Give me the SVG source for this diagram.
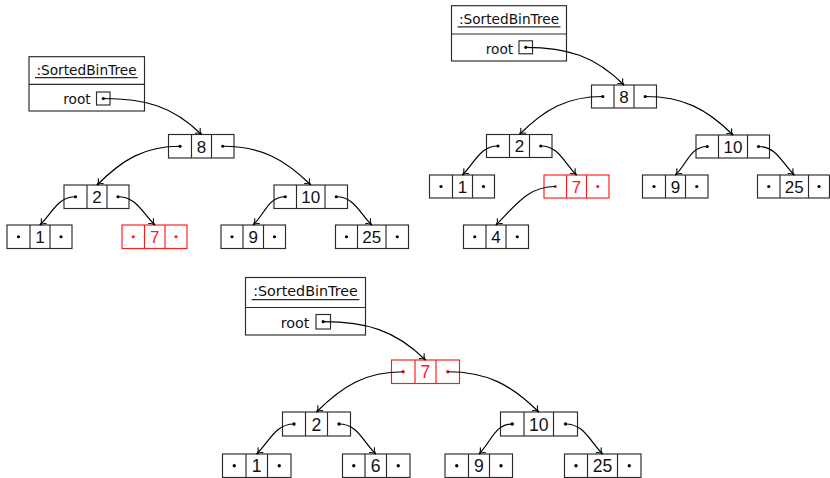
<svg xmlns="http://www.w3.org/2000/svg" width="830" height="478" viewBox="0 0 830 478">
<style>
  .cell { fill: none; stroke: #2a2a2a; stroke-width: 1.15; }
  .red .cell { stroke: #ff1a1a; }
  .num { font-family: "Liberation Sans", Arial, sans-serif; font-size: 17px; text-anchor: middle; fill: #111; }
  .big .num { font-size: 17.6px; }
  .red .num { fill: #ff1a1a; }
  .dot { fill: #000; }
  .red .dot { fill: #ff1a1a; }
  .obj { fill: none; stroke: #2a2a2a; stroke-width: 1.15; }
  .lbl { font-family: "DejaVu Sans", "Liberation Sans", sans-serif; font-size: 13.7px; fill: #111; }
  .conn path { fill: none; stroke: #000; stroke-width: 1.2; marker-end: url(#arr); }
</style>
<defs>
  <marker id="arr" viewBox="-7 -5 8 10" refX="0" refY="0" markerWidth="8" markerHeight="10" markerUnits="userSpaceOnUse" orient="auto">
    <path d="M-5.6,-3.8 C-4.2,-1.4 -1.8,-0.35 0,0 C-1.8,0.35 -4.2,1.4 -5.6,3.8" fill="none" stroke="#000" stroke-width="1.1"/>
  </marker>
</defs>

<!-- ========== Diagram 1 ========== -->
<g id="tree1-obj">
  <rect class="obj" x="29" y="56.7" width="115.5" height="54.3"/>
  <line class="obj" x1="29" y1="84.3" x2="144.5" y2="84.3"/>
  <text class="lbl" x="86.5" y="75" text-anchor="middle">:SortedBinTree</text>
  <line class="obj" x1="35" y1="77.6" x2="137.7" y2="77.6"/>
  <text class="lbl" x="90.7" y="104.3" text-anchor="end">root</text>
  <rect class="obj" x="96.5" y="92" width="13.5" height="13"/>
  <circle class="dot" cx="103.3" cy="98.5" r="1.6"/>
</g>
<g id="t1-n8"><rect class="cell" x="168.5" y="134.5" width="65.5" height="23.5"/><line class="cell" x1="191.5" y1="134.5" x2="191.5" y2="158"/><line class="cell" x1="211.5" y1="134.5" x2="211.5" y2="158"/><text class="num" x="201.5" y="152.6">8</text><circle class="dot" cx="180" cy="146.25" r="1.6"/><circle class="dot" cx="222.75" cy="146.25" r="1.6"/></g>
<g id="t1-n2"><rect class="cell" x="64" y="185" width="65" height="23.5"/><line class="cell" x1="87" y1="185" x2="87" y2="208.5"/><line class="cell" x1="107" y1="185" x2="107" y2="208.5"/><text class="num" x="97" y="203.1">2</text><circle class="dot" cx="75.5" cy="196.75" r="1.6"/><circle class="dot" cx="118" cy="196.75" r="1.6"/></g>
<g id="t1-n10"><rect class="cell" x="274" y="185" width="73.5" height="23.5"/><line class="cell" x1="296.5" y1="185" x2="296.5" y2="208.5"/><line class="cell" x1="325" y1="185" x2="325" y2="208.5"/><text class="num" x="310.75" y="203.1">10</text><circle class="dot" cx="285.25" cy="196.75" r="1.6"/><circle class="dot" cx="336.25" cy="196.75" r="1.6"/></g>
<g id="t1-n1"><rect class="cell" x="7" y="225" width="65" height="23.5"/><line class="cell" x1="30" y1="225" x2="30" y2="248.5"/><line class="cell" x1="50" y1="225" x2="50" y2="248.5"/><text class="num" x="40" y="243.1">1</text><circle class="dot" cx="18.5" cy="236.75" r="1.6"/><circle class="dot" cx="61" cy="236.75" r="1.6"/></g>
<g id="t1-n7" class="red"><rect class="cell" x="122" y="225" width="65" height="23.5"/><line class="cell" x1="144.5" y1="225" x2="144.5" y2="248.5"/><line class="cell" x1="165" y1="225" x2="165" y2="248.5"/><text class="num" x="154.75" y="243.1">7</text><circle class="dot" cx="133.25" cy="236.75" r="1.6"/><circle class="dot" cx="176" cy="236.75" r="1.6"/></g>
<g id="t1-n9"><rect class="cell" x="221" y="225" width="64.5" height="23.5"/><line class="cell" x1="243" y1="225" x2="243" y2="248.5"/><line class="cell" x1="263.5" y1="225" x2="263.5" y2="248.5"/><text class="num" x="253.25" y="243.1">9</text><circle class="dot" cx="232" cy="236.75" r="1.6"/><circle class="dot" cx="274.5" cy="236.75" r="1.6"/></g>
<g id="t1-n25"><rect class="cell" x="335.5" y="225" width="73" height="23.5"/><line class="cell" x1="357.5" y1="225" x2="357.5" y2="248.5"/><line class="cell" x1="386" y1="225" x2="386" y2="248.5"/><text class="num" x="371.75" y="243.1">25</text><circle class="dot" cx="346.5" cy="236.75" r="1.6"/><circle class="dot" cx="397.25" cy="236.75" r="1.6"/></g>

<!-- ========== Diagram 2 ========== -->
<g id="tree2-obj">
  <rect class="obj" x="451.5" y="5.7" width="115" height="55.3"/>
  <line class="obj" x1="451.5" y1="34" x2="566.5" y2="34"/>
  <text class="lbl" x="509" y="24.2" text-anchor="middle">:SortedBinTree</text>
  <line class="obj" x1="457.5" y1="26.8" x2="560.5" y2="26.8"/>
  <text class="lbl" x="513.2" y="53.8" text-anchor="end">root</text>
  <rect class="obj" x="519" y="40.8" width="13.5" height="13"/>
  <circle class="dot" cx="525.8" cy="47.3" r="1.6"/>
</g>
<g id="t2-n8"><rect class="cell" x="591.5" y="85" width="65" height="23"/><line class="cell" x1="614" y1="85" x2="614" y2="108"/><line class="cell" x1="634" y1="85" x2="634" y2="108"/><text class="num" x="624" y="102.8">8</text><circle class="dot" cx="602.75" cy="96.5" r="1.6"/><circle class="dot" cx="645.25" cy="96.5" r="1.6"/></g>
<g id="t2-n2"><rect class="cell" x="486.5" y="134.5" width="65.5" height="23"/><line class="cell" x1="509.5" y1="134.5" x2="509.5" y2="157.5"/><line class="cell" x1="529.5" y1="134.5" x2="529.5" y2="157.5"/><text class="num" x="519.5" y="152.3">2</text><circle class="dot" cx="498" cy="146" r="1.6"/><circle class="dot" cx="540.75" cy="146" r="1.6"/></g>
<g id="t2-n10"><rect class="cell" x="696" y="135" width="73.5" height="23"/><line class="cell" x1="718.5" y1="135" x2="718.5" y2="158"/><line class="cell" x1="747.5" y1="135" x2="747.5" y2="158"/><text class="num" x="733" y="152.8">10</text><circle class="dot" cx="707.25" cy="146.5" r="1.6"/><circle class="dot" cx="758.5" cy="146.5" r="1.6"/></g>
<g id="t2-n1"><rect class="cell" x="429.5" y="175" width="65" height="23"/><line class="cell" x1="452.5" y1="175" x2="452.5" y2="198"/><line class="cell" x1="472.5" y1="175" x2="472.5" y2="198"/><text class="num" x="462.5" y="192.8">1</text><circle class="dot" cx="441" cy="186.5" r="1.6"/><circle class="dot" cx="483.5" cy="186.5" r="1.6"/></g>
<g id="t2-n7" class="red"><rect class="cell" x="544" y="175" width="65" height="23"/><line class="cell" x1="566.5" y1="175" x2="566.5" y2="198"/><line class="cell" x1="586.5" y1="175" x2="586.5" y2="198"/><text class="num" x="576.5" y="192.8">7</text><circle class="dot" cx="555.25" cy="186.5" r="1.6"/><circle class="dot" cx="597.75" cy="186.5" r="1.6"/></g>
<g id="t2-n9"><rect class="cell" x="642.5" y="175" width="65.5" height="23"/><line class="cell" x1="665.5" y1="175" x2="665.5" y2="198"/><line class="cell" x1="685.5" y1="175" x2="685.5" y2="198"/><text class="num" x="675.5" y="192.8">9</text><circle class="dot" cx="654" cy="186.5" r="1.6"/><circle class="dot" cx="696.75" cy="186.5" r="1.6"/></g>
<g id="t2-n25"><rect class="cell" x="757.5" y="175" width="72" height="23"/><line class="cell" x1="780" y1="175" x2="780" y2="198"/><line class="cell" x1="808.5" y1="175" x2="808.5" y2="198"/><text class="num" x="794.25" y="192.8">25</text><circle class="dot" cx="768.75" cy="186.5" r="1.6"/><circle class="dot" cx="819" cy="186.5" r="1.6"/></g>
<g id="t2-n4"><rect class="cell" x="463.5" y="225" width="65" height="23.5"/><line class="cell" x1="486" y1="225" x2="486" y2="248.5"/><line class="cell" x1="506" y1="225" x2="506" y2="248.5"/><text class="num" x="496" y="243.1">4</text><circle class="dot" cx="474.75" cy="236.75" r="1.6"/><circle class="dot" cx="517.25" cy="236.75" r="1.6"/></g>

<!-- ========== Diagram 3 ========== -->
<g id="tree3-obj">
  <rect class="obj" x="245.5" y="277.5" width="120" height="57.5"/>
  <line class="obj" x1="245.5" y1="307.5" x2="365.5" y2="307.5"/>
  <text class="lbl" x="305.5" y="296" text-anchor="middle" style="font-size:14.3px">:SortedBinTree</text>
  <line class="obj" x1="251.7" y1="299.6" x2="359.3" y2="299.6"/>
  <text class="lbl" x="309.3" y="328.3" text-anchor="end" style="font-size:14.3px">root</text>
  <rect class="obj" x="316" y="314.5" width="14.5" height="14.5"/>
  <circle class="dot" cx="323.2" cy="321.7" r="1.6"/>
</g>
<g id="t3-n7" class="red big"><rect class="cell" x="391.5" y="360" width="68" height="23.5"/><line class="cell" x1="415" y1="360" x2="415" y2="383.5"/><line class="cell" x1="436" y1="360" x2="436" y2="383.5"/><text class="num" x="425.5" y="378.2">7</text><circle class="dot" cx="403.25" cy="371.75" r="1.65"/><circle class="dot" cx="447.75" cy="371.75" r="1.65"/></g>
<g id="t3-n2" class="big"><rect class="cell" x="282.5" y="412" width="68" height="24"/><line class="cell" x1="305.5" y1="412" x2="305.5" y2="436"/><line class="cell" x1="327.5" y1="412" x2="327.5" y2="436"/><text class="num" x="316.5" y="430.5">2</text><circle class="dot" cx="294" cy="424" r="1.65"/><circle class="dot" cx="339" cy="424" r="1.65"/></g>
<g id="t3-n10" class="big"><rect class="cell" x="500.5" y="412" width="77" height="24"/><line class="cell" x1="524" y1="412" x2="524" y2="436"/><line class="cell" x1="553.5" y1="412" x2="553.5" y2="436"/><text class="num" x="538.75" y="430.5">10</text><circle class="dot" cx="512.25" cy="424" r="1.65"/><circle class="dot" cx="565.5" cy="424" r="1.65"/></g>
<g id="t3-n1" class="big"><rect class="cell" x="222.5" y="454" width="68.5" height="23.5"/><line class="cell" x1="246" y1="454" x2="246" y2="477.5"/><line class="cell" x1="267.5" y1="454" x2="267.5" y2="477.5"/><text class="num" x="256.75" y="472.2">1</text><circle class="dot" cx="234.25" cy="465.75" r="1.65"/><circle class="dot" cx="279.25" cy="465.75" r="1.65"/></g>
<g id="t3-n6" class="big"><rect class="cell" x="342.5" y="454" width="67.5" height="23.5"/><line class="cell" x1="365" y1="454" x2="365" y2="477.5"/><line class="cell" x1="386.5" y1="454" x2="386.5" y2="477.5"/><text class="num" x="375.75" y="472.2">6</text><circle class="dot" cx="353.75" cy="465.75" r="1.65"/><circle class="dot" cx="398.25" cy="465.75" r="1.65"/></g>
<g id="t3-n9" class="big"><rect class="cell" x="445" y="454" width="67.5" height="23.5"/><line class="cell" x1="468.5" y1="454" x2="468.5" y2="477.5"/><line class="cell" x1="489.5" y1="454" x2="489.5" y2="477.5"/><text class="num" x="479" y="472.2">9</text><circle class="dot" cx="456.75" cy="465.75" r="1.65"/><circle class="dot" cx="501" cy="465.75" r="1.65"/></g>
<g id="t3-n25" class="big"><rect class="cell" x="564.5" y="454" width="76.5" height="23.5"/><line class="cell" x1="587.5" y1="454" x2="587.5" y2="477.5"/><line class="cell" x1="617.5" y1="454" x2="617.5" y2="477.5"/><text class="num" x="602.5" y="472.2">25</text><circle class="dot" cx="576" cy="465.75" r="1.65"/><circle class="dot" cx="629.25" cy="465.75" r="1.65"/></g>

<!-- ========== Connectors ========== -->
<g id="connectors" class="conn">
  <path d="M103.3,98.5 C144.1,98.5 172.7,105.7 201.5,134.5"/>
  <path d="M180,146.25 C144.3,146.25 122.3,159.7 97,185"/>
  <path d="M222.75,146.25 C260.25,146.25 284.25,158.5 310.75,185"/>
  <path d="M75.5,196.75 C57.8,196.75 52.5,212.5 40,225"/>
  <path d="M118,196.75 C136.1,196.75 141.95,212.2 154.75,225"/>
  <path d="M285.25,196.75 C268.65,196.75 265.05,213.2 253.25,225"/>
  <path d="M336.25,196.75 C353.95,196.75 359.25,212.5 371.75,225"/>

  <path d="M525.8,47.3 C566.8,47.3 595,56 624,85"/>
  <path d="M602.75,96.5 C567.05,96.5 544.7,109.3 519.5,134.5"/>
  <path d="M645.25,96.5 C682.65,96.5 706.6,108.6 733,135"/>
  <path d="M498,146 C480.1,146 475.1,162.4 462.5,175"/>
  <path d="M540.75,146 C558.65,146 563.8,162.3 576.5,175"/>
  <path d="M555.25,186.5 C527.65,186.5 515.5,205.5 496,225"/>
  <path d="M707.25,146.5 C690.65,146.5 687.3,163.2 675.5,175"/>
  <path d="M758.5,146.5 C776.3,146.5 781.65,162.4 794.25,175"/>

  <path d="M323.2,321.7 C365.8,321.7 395.4,329.9 425.5,360"/>
  <path d="M403.25,371.75 C365.95,371.75 342.9,385.6 316.5,412"/>
  <path d="M447.75,371.75 C486.55,371.75 511.35,384.6 538.75,412"/>
  <path d="M294,424 C275.4,424 269.95,440.8 256.75,454"/>
  <path d="M339,424 C357.5,424 362.65,440.9 375.75,454"/>
  <path d="M512.25,424 C494.75,424 491.4,441.6 479,454"/>
  <path d="M565.5,424 C584.1,424 589.6,440.9 602.5,454"/>
</g>
</svg>
